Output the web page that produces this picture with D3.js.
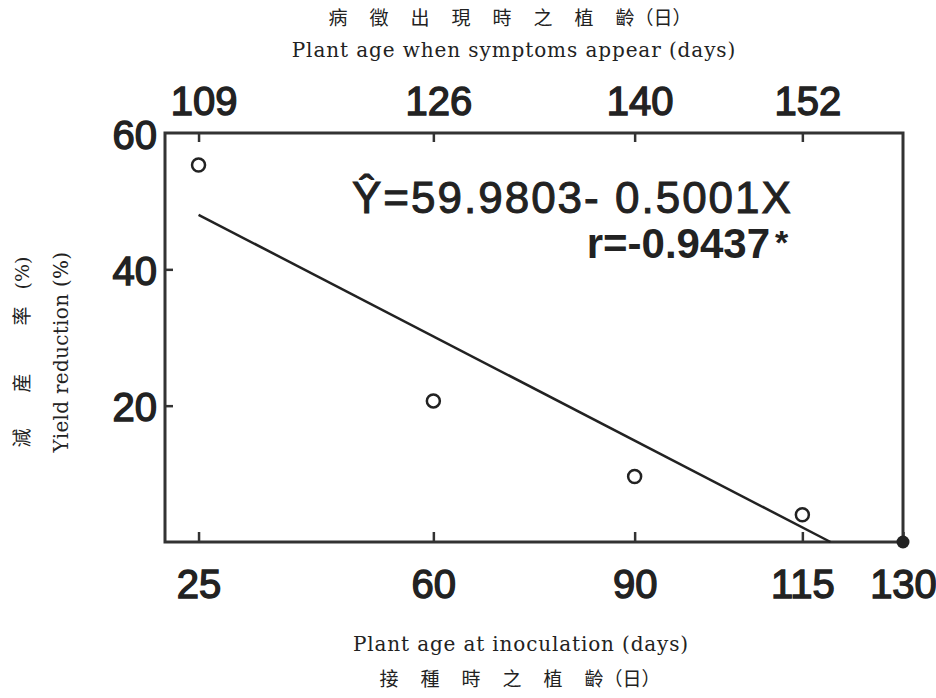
<!DOCTYPE html>
<html><head><meta charset="utf-8">
<script src="https://cdn.jsdelivr.net/npm/d3@7"></script>
<style>
body{margin:0;background:#fff;}
svg{display:block;}
</style></head>
<body>
<svg id="chart" width="936" height="698"></svg>
<script>
// ---- data ----
const inoculationAge = [25, 60, 90, 115];
const yieldReduction = [55.3, 20.7, 9.6, 4.0];
const bottomTicks = [25, 60, 90, 115, 130];
const topTickLabels = ["109", "126", "140", "152"];
const leftTicks = [20, 40, 60];
const fitX = [25, 119.2];
const fitY = [48, 0];
const endPoint = [130, 0];

const titleZhMain = "病徵出現時之植";
const titleZhEnd = "齡（日）";
const titleEn = "Plant age when symptoms appear (days)";
const xLabelEn = "Plant age at inoculation (days)";
const xLabelZhMain = "接種時之植";
const xLabelZhEnd = "齡（日）";
const yLabelZh = ["減", "産", "率"];
const yLabelZhUnit = "(%)";
const yLabelEn = "Yield reduction (%)";
const eq1 = "Ŷ=59.9803- 0.5001X";
const eq2 = "r=-0.9437";

const ink = "#222";
const svg = d3.select("#chart");
const x = d3.scaleLinear().domain([20, 130]).range([165, 903]);
const y = d3.scaleLinear().domain([0, 60]).range([542, 133]);

const numFont = "'Liberation Sans', Arial, sans-serif";
const serif = "'DejaVu Serif', 'Liberation Serif', serif";
const cjk = "'Noto Sans CJK TC', sans-serif";

// frame
svg.append("rect").attr("x", x(20)).attr("y", y(60))
  .attr("width", x(130) - x(20)).attr("height", y(0) - y(60))
  .attr("fill", "none").attr("stroke", "#333").attr("stroke-width", 3);

// bottom axis
const gb = svg.append("g").attr("transform", `translate(0,${y(0)})`)
  .call(d3.axisBottom(x).tickValues(bottomTicks).tickSize(-10).tickPadding(28).tickFormat(d3.format("d")));
// top axis
const gt = svg.append("g").attr("transform", `translate(0,${y(60)})`)
  .call(d3.axisTop(x).tickValues(inoculationAge).tickSize(-9).tickPadding(18)
    .tickFormat((d, i) => topTickLabels[i]));
// left axis
const gl = svg.append("g").attr("transform", `translate(${x(20)},0)`)
  .call(d3.axisLeft(y).tickValues(leftTicks).tickSize(-8).tickPadding(8).tickFormat(d3.format("d")));

[gb, gt, gl].forEach(g => {
  g.select(".domain").remove();
  g.selectAll(".tick line").attr("stroke", "#333").attr("stroke-width", 2.5);
  g.selectAll(".tick text").attr("fill", ink).attr("stroke", ink).attr("stroke-width", 1.4)
    .style("font-family", numFont).style("font-size", "40px").style("font-weight", "normal");
});
gt.selectAll(".tick text").attr("dx", 5);
gl.selectAll(".tick text").attr("dy", "0.38em");
gl.selectAll(".tick").filter(d => d === 60).select("line").remove();

// regression line
svg.append("line")
  .attr("x1", x(fitX[0])).attr("y1", y(fitY[0]))
  .attr("x2", x(fitX[1])).attr("y2", y(fitY[1]))
  .attr("stroke", ink).attr("stroke-width", 2.5);

// points
svg.selectAll("circle.pt").data(inoculationAge).enter().append("circle")
  .attr("class", "pt")
  .attr("cx", d => x(d)).attr("cy", (d, i) => y(yieldReduction[i]))
  .attr("r", 6.5).attr("fill", "#fff").attr("stroke", ink).attr("stroke-width", 2.5);
svg.append("circle").attr("cx", x(endPoint[0])).attr("cy", y(endPoint[1]))
  .attr("r", 6.5).attr("fill", ink);

// equation
svg.append("text").attr("x", 352).attr("y", 213).attr("fill", ink)
  .attr("stroke", ink).attr("stroke-width", 1)
  .style("font-family", numFont).style("font-size", "44px").style("letter-spacing", "2px").text(eq1);
svg.append("text").attr("x", 770).attr("y", 258).attr("text-anchor", "end").attr("fill", ink)
  .style("font-family", numFont).style("font-size", "42px").style("font-weight", "bold").text(eq2);
svg.append("text").attr("x", 775).attr("y", 254).attr("fill", ink)
  .style("font-family", numFont).style("font-size", "34px").style("font-weight", "bold").text("*");

// CJK label with wide spacing
function cjkLabel(cx, cy, main, end) {
  const t = svg.append("text").attr("x", cx).attr("y", cy).attr("text-anchor", "middle").attr("fill", ink)
    .style("font-family", cjk).style("font-size", "19px");
  t.append("tspan").style("letter-spacing", "22px").text(main);
  t.append("tspan").text(end);
}
cjkLabel(510, 25, titleZhMain, titleZhEnd);
cjkLabel(520, 686, xLabelZhMain, xLabelZhEnd);

svg.append("text").attr("x", 514).attr("y", 57).attr("text-anchor", "middle").attr("fill", ink)
  .style("font-family", serif).style("font-size", "20px").style("letter-spacing", "0.9px").text(titleEn);
svg.append("text").attr("x", 521).attr("y", 651).attr("text-anchor", "middle").attr("fill", ink)
  .style("font-family", serif).style("font-size", "20px").style("letter-spacing", "0.85px").text(xLabelEn);

// y labels (rotated)
const zhPos = [438, 383, 316];
yLabelZh.forEach((c, i) => {
  svg.append("text").attr("transform", `translate(29,${zhPos[i]}) rotate(-90)`).attr("text-anchor", "middle")
    .attr("fill", ink).style("font-family", cjk).style("font-size", "19px").text(c);
});
svg.append("text").attr("transform", "translate(29,273) rotate(-90)").attr("text-anchor", "middle")
  .attr("fill", ink).style("font-family", serif).style("font-size", "19px").text(yLabelZhUnit);
svg.append("text").attr("transform", "translate(68,352) rotate(-90)").attr("text-anchor", "middle")
  .attr("fill", ink).style("font-family", serif).style("font-size", "20px").style("letter-spacing", "0.3px").text(yLabelEn);
</script>
</body></html>
